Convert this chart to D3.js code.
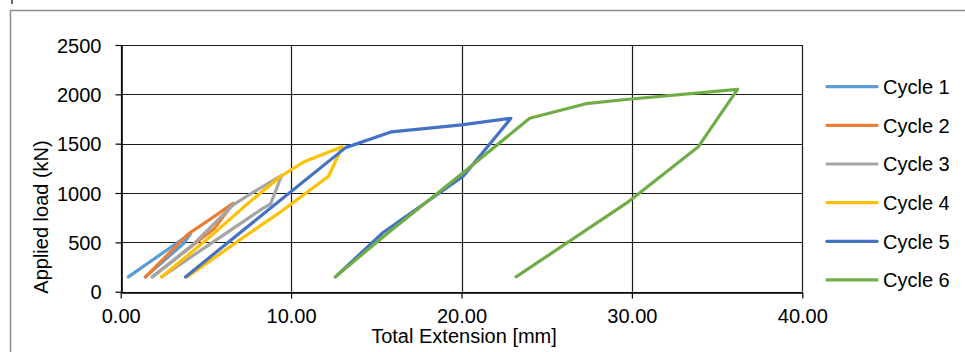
<!DOCTYPE html>
<html>
<head>
<meta charset="utf-8">
<script src="https://cdn.jsdelivr.net/npm/d3@7"></script>
<style>
  body { margin: 0; background: #fff; }
  text { font-family: "Liberation Sans", Arial, sans-serif; fill: #000; }
</style>
</head>
<body>
<div id="chart"></div>
<script>
// series names and colours
const names = ["Cycle 1", "Cycle 2", "Cycle 3", "Cycle 4", "Cycle 5", "Cycle 6"];
const colors = ["#5B9BD5", "#ED7D31", "#A5A5A5", "#FFC000", "#4472C4", "#70AD47"];

// [extension mm, load kN]
const cycle1 = [[0.45, 150], [4.1, 590], [3.7, 490], [1.45, 150]];
const cycle2 = [[1.45, 150], [4.0, 590], [5.3, 740], [6.6, 895], [5.5, 640], [1.85, 150]];
const cycle3 = [[1.85, 150], [4.2, 470], [6.6, 880], [7.7, 1000], [9.45, 1180], [8.8, 890], [8.3, 840], [2.4, 150]];
const cycle4 = [[2.4, 150], [5.0, 520], [7.5, 900], [9.4, 1170], [10.8, 1320], [13.0, 1470],
                [12.2, 1170], [9.4, 810], [7.4, 575], [3.9, 150]];
const cycle5 = [[3.8, 150], [8.6, 820], [13.2, 1460], [15.9, 1620], [20.0, 1690], [22.9, 1757],
                [20.1, 1170], [15.4, 600], [12.6, 150]];
const cycle6 = [[12.6, 150], [15.5, 570], [20.2, 1220], [24.0, 1757], [27.3, 1905], [29.8, 1950],
                [36.2, 2050], [33.9, 1470], [29.7, 900], [23.2, 150]];
const cycles = [cycle1, cycle2, cycle3, cycle4, cycle5, cycle6];

// tick values
const xTicks = [0, 10, 20, 30, 40];
const yTicks = [0, 500, 1000, 1500, 2000, 2500];

const w = 965;
const h = 352;

const xScale = d3.scaleLinear()
  .domain([0, 40])
  .range([120.7, 802.3]);

const yScale = d3.scaleLinear()
  .domain([0, 2500])
  .range([291.7, 45]);

const svg = d3.select("div#chart")
  .append("svg")
  .attr("width", w)
  .attr("height", h);

// outer frame
svg.append("rect")
  .attr("x", 10.5)
  .attr("y", 10.5)
  .attr("width", 1000)
  .attr("height", 400)
  .attr("fill", "none")
  .attr("stroke", "#8c8c8c")
  .attr("stroke-width", 1.5);

svg.append("line")
  .attr("x1", 12).attr("x2", 12)
  .attr("y1", 0).attr("y2", 4)
  .attr("stroke", "#333")
  .attr("stroke-width", 1.5);

// grid
svg.append("g")
  .selectAll("line")
  .data(yTicks)
  .enter()
  .append("line")
    .attr("x1", xScale(0))
    .attr("x2", xScale(40))
    .attr("y1", d => Math.round(yScale(d)) + 0.5)
    .attr("y2", d => Math.round(yScale(d)) + 0.5)
    .attr("stroke", "#1a1a1a")
    .attr("stroke-width", 1.2);

svg.append("g")
  .selectAll("line")
  .data(xTicks)
  .enter()
  .append("line")
    .attr("x1", d => Math.round(xScale(d)) + 0.5)
    .attr("x2", d => Math.round(xScale(d)) + 0.5)
    .attr("y1", yScale(2500))
    .attr("y2", yScale(0))
    .attr("stroke", "#1a1a1a")
    .attr("stroke-width", 1.2);

// axes
const xAxis = d3.axisBottom(xScale)
  .tickValues(xTicks)
  .tickFormat(d3.format(".2f"))
  .tickSizeInner(6)
  .tickSizeOuter(0)
  .tickPadding(10);

const yAxis = d3.axisLeft(yScale)
  .tickValues(yTicks)
  .tickFormat(d3.format("d"))
  .tickSizeInner(6)
  .tickSizeOuter(0)
  .tickPadding(14);

const gx = svg.append("g")
  .attr("transform", `translate(0, ${Math.round(yScale(0)) + 0.5})`)
  .call(xAxis);

const gy = svg.append("g")
  .attr("transform", `translate(${Math.round(xScale(0)) + 0.5}, 0)`)
  .call(yAxis);

[gx, gy].forEach(g => {
  g.select(".domain").attr("stroke", "#000").attr("stroke-width", 1.5);
  g.selectAll(".tick line").attr("stroke", "#000").attr("stroke-width", 1.2);
  g.selectAll(".tick text")
    .attr("font-size", 20)
    .attr("font-family", "Liberation Sans, Arial, sans-serif")
    .attr("fill", "#000");
});
gy.selectAll(".tick text").attr("dy", "0.35em");

// series
const line = d3.line()
  .x(d => xScale(d[0]))
  .y(d => yScale(d[1]));

svg.append("g")
  .selectAll("path")
  .data(cycles)
  .enter()
  .append("path")
    .attr("d", line)
    .attr("fill", "none")
    .attr("stroke", (d, i) => colors[i])
    .attr("stroke-width", 3.2)
    .attr("stroke-linejoin", "round")
    .attr("stroke-linecap", "round");

// axis titles
svg.append("text")
  .attr("text-anchor", "middle")
  .attr("x", 464)
  .attr("y", 343)
  .attr("font-size", 20)
  .text("Total Extension [mm]");

svg.append("text")
  .attr("text-anchor", "middle")
  .attr("transform", "translate(48, 217) rotate(-90)")
  .attr("font-size", 20)
  .text("Applied load (kN)");

// legend
const legend = svg.append("g")
  .selectAll("g")
  .data(names)
  .enter()
  .append("g")
    .attr("transform", (d, i) => `translate(0, ${86.7 + i * 38.65})`);

legend.append("line")
  .attr("x1", 827)
  .attr("x2", 877)
  .attr("stroke", (d, i) => colors[i])
  .attr("stroke-width", 3.2)
  .attr("stroke-linecap", "round");

legend.append("text")
  .attr("x", 883)
  .attr("dy", "0.36em")
  .attr("font-size", 20)
  .text(d => d);
</script>
</body>
</html>
